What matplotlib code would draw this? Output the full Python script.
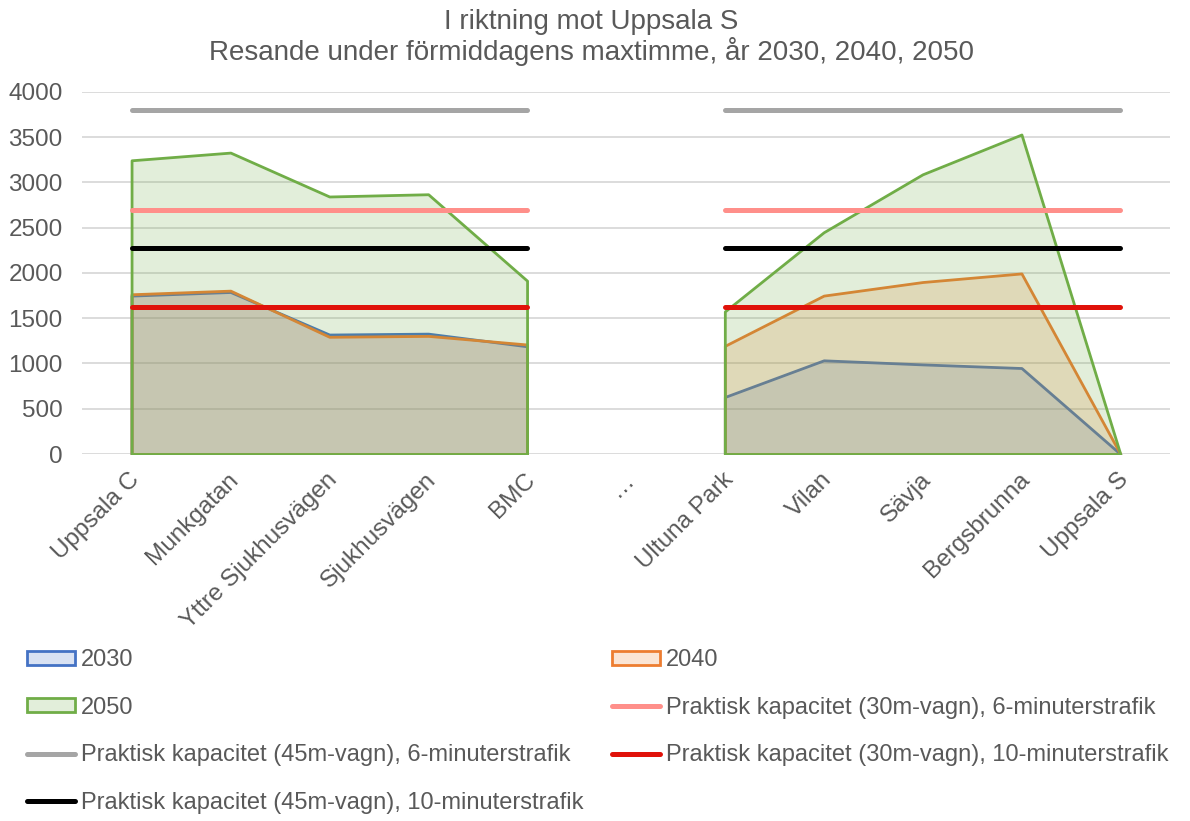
import numpy as np
import matplotlib
matplotlib.use("Agg")
import matplotlib.pyplot as plt
import matplotlib.transforms as mtransforms
from matplotlib.patches import Patch
from matplotlib.lines import Line2D

plt.rcParams['font.family'] = ['Liberation Sans', 'DejaVu Sans']

# stations (index 5 is the "…" gap)
stations = ["Uppsala C", "Munkgatan", "Yttre Sjukhusvägen", "Sjukhusvägen", "BMC", "…",
            "Ultuna Park", "Vilan", "Sävja", "Bergsbrunna", "Uppsala S"]

y2030 = [1750, 1790, 1320, 1330, 1190, np.nan, 630, 1035, 990, 950, 0]
y2040 = [1765, 1805, 1295, 1305, 1210, np.nan, 1195, 1750, 1900, 1995, 0]
y2050 = [3245, 3330, 2845, 2870, 1915, np.nan, 1575, 2450, 3090, 3530, 0]

cap_45_6 = 3800
cap_30_6 = 2700
cap_45_10 = 2280
cap_30_10 = 1620

text_col = "#595959"
blue, orange, green = "#4472C4", "#ED7D31", "#70AD47"

fig = plt.figure(figsize=(11.9, 8.21), dpi=100)
ax = fig.add_axes([0.069, 0.447, 0.914, 0.441])

x = np.arange(len(stations))


def segments(vals):
    vals = np.asarray(vals, dtype=float)
    ok = ~np.isnan(vals)
    segs, cur = [], []
    for i in range(len(vals)):
        if ok[i]:
            cur.append(i)
        elif cur:
            segs.append(cur)
            cur = []
    if cur:
        segs.append(cur)
    return [(x[s], vals[s]) for s in segs]


for vals, col, z in [(y2030, blue, 2), (y2040, orange, 3), (y2050, green, 4)]:
    for xs, ys in segments(vals):
        ax.fill_between(xs, 0, ys, facecolor=matplotlib.colors.to_rgba(col, 0.2),
                        edgecolor=col, linewidth=2, zorder=z)

mask = np.array([np.nan if np.isnan(v) else 1.0 for v in y2050])
cap_lines = [(cap_45_6, "#A5A5A5"), (cap_30_6, "#FF8F8A"),
             (cap_45_10, "#000000"), (cap_30_10, "#E0120A")]
for val, col in cap_lines:
    ax.plot(x, val * mask, color=col, linewidth=3.6, solid_capstyle='round', zorder=6)

ax.set_xlim(-0.5, len(stations) - 0.5)
ax.set_ylim(0, 4000)
ax.set_yticks(np.arange(0, 4001, 500))
ax.yaxis.grid(True, color="#D9D9D9", linewidth=1.3)
ax.set_axisbelow(True)
for s in ax.spines.values():
    s.set_visible(False)
ax.tick_params(axis='both', length=0, labelsize=17.5, colors=text_col)
ax.tick_params(axis='y', pad=14)
ax.set_xticks(x)
ax.set_xticklabels(stations, rotation=45, ha='right', va='center', rotation_mode='anchor')
ax.tick_params(axis='x', pad=16)
shift = mtransforms.ScaledTranslation(3.5 / 72, 0, fig.dpi_scale_trans)
for lbl in ax.get_xticklabels():
    lbl.set_transform(lbl.get_transform() + shift)

fig.text(0.497, 0.973, "I riktning mot Uppsala S", ha='center', va='center',
         fontsize=20, color=text_col)
fig.text(0.497, 0.937, "Resande under förmiddagens maxtimme, år 2030, 2040, 2050",
         ha='center', va='center', fontsize=20, color=text_col)

def area_handle(col):
    return Patch(facecolor=matplotlib.colors.to_rgba(col, 0.2), edgecolor=col, linewidth=2)

h = {
    "2030": area_handle(blue),
    "2040": area_handle(orange),
    "2050": area_handle(green),
    "Praktisk kapacitet (30m-vagn), 6-minuterstrafik": Line2D([], [], color="#FF8F8A", lw=3.6, solid_capstyle='round'),
    "Praktisk kapacitet (45m-vagn), 6-minuterstrafik": Line2D([], [], color="#A5A5A5", lw=3.6, solid_capstyle='round'),
    "Praktisk kapacitet (30m-vagn), 10-minuterstrafik": Line2D([], [], color="#E0120A", lw=3.6, solid_capstyle='round'),
    "Praktisk kapacitet (45m-vagn), 10-minuterstrafik": Line2D([], [], color="#000000", lw=3.6, solid_capstyle='round'),
}
order = ["2030", "2050", "Praktisk kapacitet (45m-vagn), 6-minuterstrafik",
         "Praktisk kapacitet (45m-vagn), 10-minuterstrafik",
         "2040", "Praktisk kapacitet (30m-vagn), 6-minuterstrafik",
         "Praktisk kapacitet (30m-vagn), 10-minuterstrafik"]
leg = fig.legend([h[k] for k in order], order, ncol=2, loc='upper left',
                 bbox_to_anchor=(0.0145, 0.221), frameon=False, fontsize=17,
                 handlelength=2.03, handleheight=0.55, handletextpad=0.25,
                 labelspacing=1.09, columnspacing=1.23, borderaxespad=0)
for t in leg.get_texts():
    t.set_color(text_col)

fig.savefig("out.png", dpi=100, facecolor='white')
